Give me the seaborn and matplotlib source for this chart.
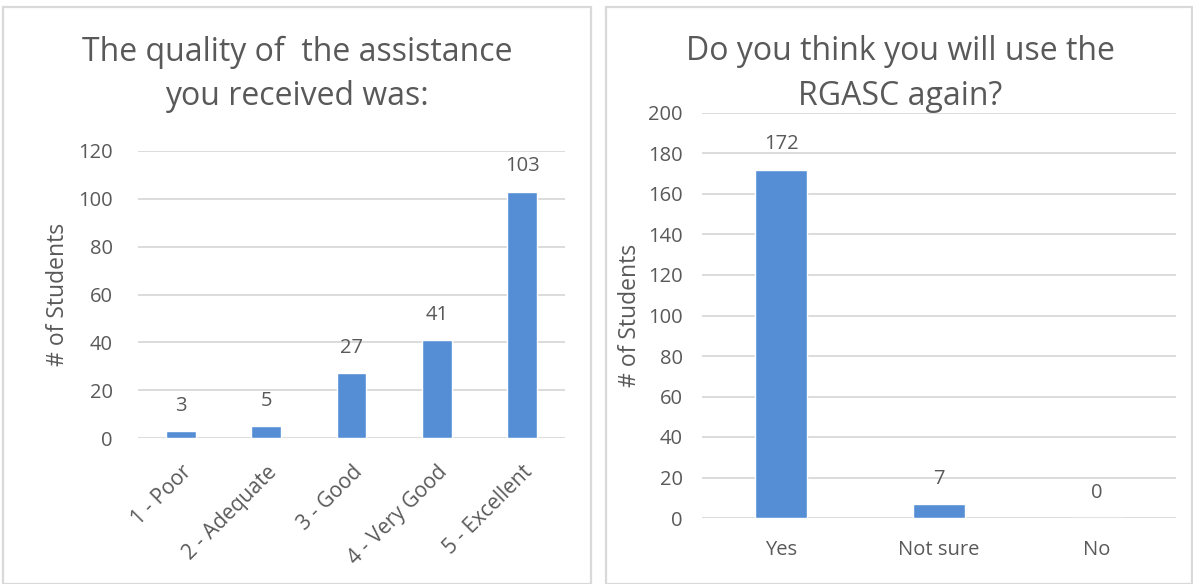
import matplotlib
matplotlib.use("Agg")
import matplotlib.pyplot as plt
import seaborn as sns
import pandas as pd
from matplotlib.patches import Rectangle

quality_labels = ["1 - Poor", "2 - Adequate", "3 - Good", "4 - Very Good", "5 - Excellent"]
quality_counts = [3, 5, 27, 41, 103]
reuse_labels = ["Yes", "Not sure", "No"]
reuse_counts = [172, 7, 0]

sns.set_theme(style="white")
plt.rcParams['font.family'] = ['Open Sans', 'DejaVu Sans']

W, H = 1193, 584
fig = plt.figure(figsize=(W / 100, H / 100), dpi=100)

BAR = "#558ED5"
TXT = "#595959"
GRID = "#D9D9D9"
TICK_FS = 14.5
TITLE_FS = 23

def px_axes(x0, y0, x1, y1):
    return fig.add_axes([x0 / W, (H - y1) / H, (x1 - x0) / W, (y1 - y0) / H])

# panel borders
for (x0, y0, x1, y1) in [(3, 7, 591, 584), (606, 7, 1192, 584)]:
    fig.patches.append(Rectangle((x0 / W, (H - y1) / H), (x1 - x0) / W, (y1 - y0) / H,
                                 transform=fig.transFigure, fill=False,
                                 edgecolor=GRID, linewidth=1.6))

def style(ax, ymax, step, ypad, lpad):
    ax.set_ylim(0, ymax)
    ax.set_yticks(range(0, ymax + 1, step))
    ax.grid(axis='y', color=GRID, linewidth=1.3)
    ax.set_axisbelow(True)
    for s in ax.spines.values():
        s.set_visible(False)
    ax.tick_params(axis='both', length=0, labelsize=TICK_FS, colors=TXT)
    ax.tick_params(axis='y', pad=ypad)
    ax.set_xlabel("")
    ax.set_ylabel("# of Students", fontsize=16.5, color=TXT, labelpad=lpad)

# left chart
ax1 = px_axes(138, 151, 565, 438)
df1 = pd.DataFrame({"cat": quality_labels, "n": quality_counts})
sns.barplot(data=df1, x="cat", y="n", color=BAR, width=0.35, saturation=1, ax=ax1)
style(ax1, 120, 20, 18, 6)
ax1.set_xticks(range(len(quality_labels)))
ax1.set_xticklabels(quality_labels, rotation=45, ha='right', rotation_mode='anchor',
                    fontsize=15)
ax1.tick_params(axis='x', pad=17)
for i, v in enumerate(quality_counts):
    ax1.annotate(str(v), (i, v), xytext=(0, 11), textcoords='offset points',
                 ha='center', va='bottom', fontsize=TICK_FS, color=TXT)
fig.text(297 / W, 1 - 52 / H, "The quality of  the assistance", ha='center', va='center',
         fontsize=TITLE_FS, color=TXT)
fig.text(297 / W, 1 - 97 / H, "you received was:", ha='center', va='center',
         fontsize=TITLE_FS, color=TXT)

# right chart
ax2 = px_axes(702, 113, 1176, 518)
df2 = pd.DataFrame({"cat": reuse_labels, "n": reuse_counts})
sns.barplot(data=df2, x="cat", y="n", color=BAR, width=0.335, saturation=1, ax=ax2)
style(ax2, 200, 20, 14, 4)
ax2.tick_params(axis='x', pad=16)
for i, v in enumerate(reuse_counts):
    ax2.annotate(str(v), (i, v), xytext=(0, 11), textcoords='offset points',
                 ha='center', va='bottom', fontsize=TICK_FS, color=TXT)
fig.text(900 / W, 1 - 52 / H, "Do you think you will use the", ha='center', va='center',
         fontsize=TITLE_FS, color=TXT)
fig.text(900 / W, 1 - 97 / H, "RGASC again?", ha='center', va='center',
         fontsize=TITLE_FS, color=TXT)

fig.savefig("out.png", dpi=100)
